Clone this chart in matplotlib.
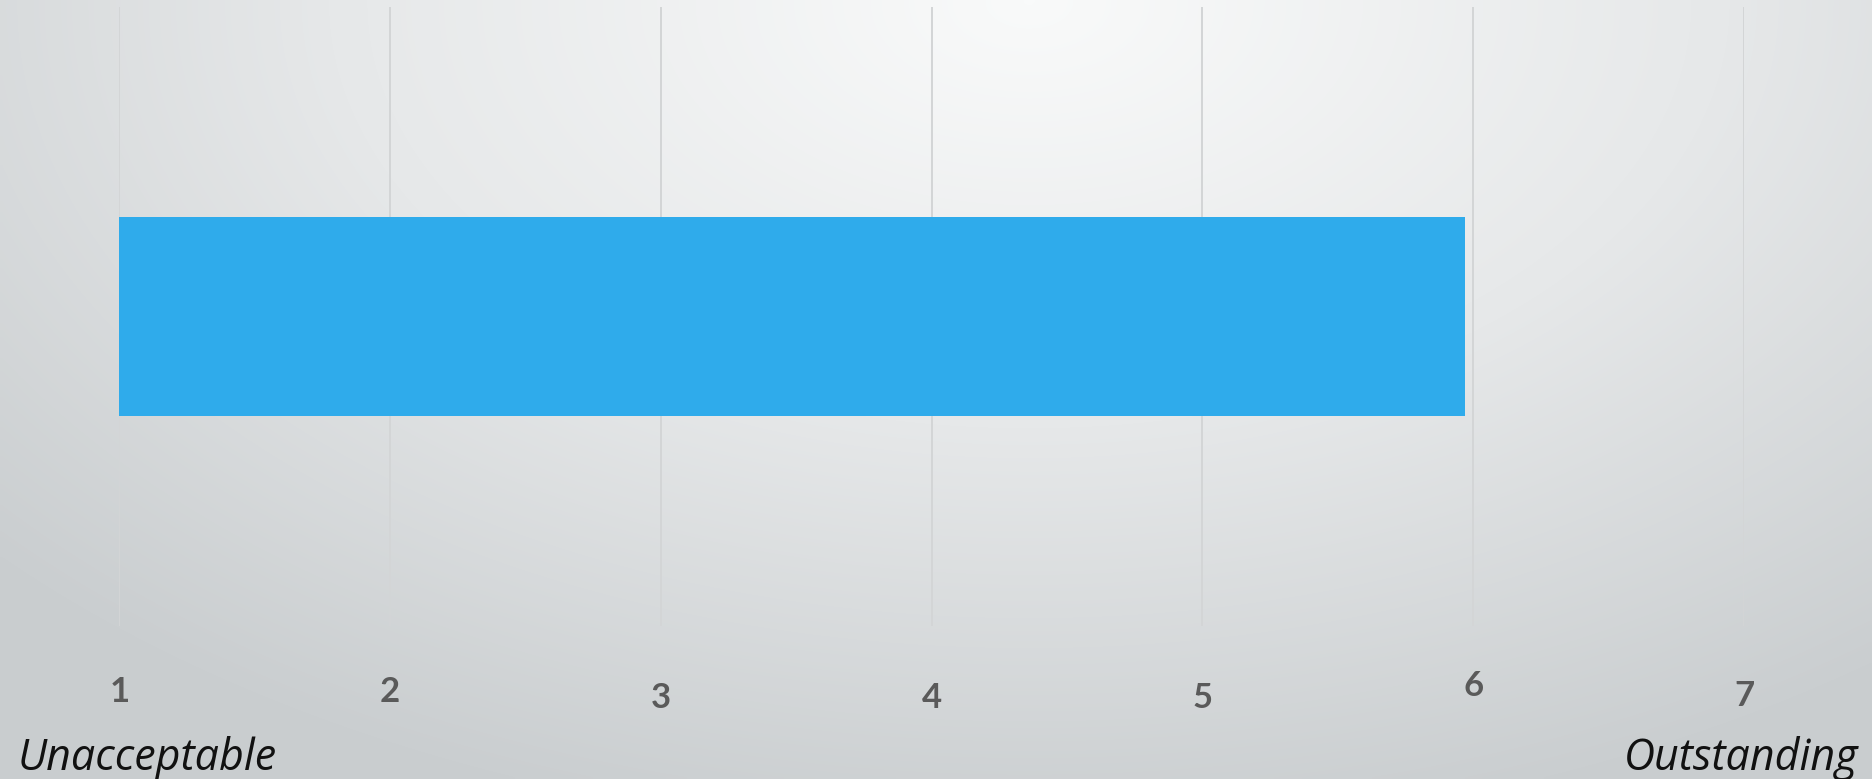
import numpy as np
import matplotlib.pyplot as plt
import matplotlib.transforms as mtransforms
from matplotlib.colors import LinearSegmentedColormap

# Rating scale
ticks = [1, 2, 3, 4, 5, 6, 7]
tick_labels = ['1', '2', '3', '4', '5', '6', '7']
score = 5.97
low_label = 'Unacceptable'
high_label = 'Outstanding'

fig = plt.figure(figsize=(18.72, 7.79), dpi=100)

# radial grey background, light at top centre
bg = fig.add_axes([0, 0, 1, 1], zorder=-10)
gx, gy = np.meshgrid(np.linspace(0, 1, 400), np.linspace(0, 1, 200))
dist = np.sqrt(((gx - 0.55) / 0.75) ** 2 + ((gy - 0.0) / 1.1) ** 2)
cmap = LinearSegmentedColormap.from_list('bg', ['#f9fafa', '#e6e8e9', '#c9cdcf'])
bg.imshow(np.clip(dist, 0, 1), cmap=cmap, vmin=0, vmax=1, aspect='auto',
          extent=[0, 1, 1, 0], interpolation='bilinear')
bg.axis('off')

ax = fig.add_axes([119.4 / 1872, 1 - 626 / 779, (1744 - 119.4) / 1872, 619 / 779])
ax.patch.set_alpha(0)
ax.set_xlim(1, 7)
ax.set_ylim(-0.5, 0.5)

ax.barh([0], [score - ticks[0]], left=ticks[0], height=0.323, color='#2fabeb', zorder=2)

for t in ticks:
    ax.axvline(t, color='#d3d5d6', linewidth=1.4, zorder=1)

for s in ax.spines.values():
    s.set_visible(False)
ax.set_yticks([])
ax.set_xticks(ticks)
ax.set_xticklabels(tick_labels, fontsize=25, fontweight='bold', color='#5a5a5a',
                   family='Lato')
ax.tick_params(axis='x', length=0, pad=36)

# old-style figures: 3,4,5,7 sit lower, 6 sits higher
shift = {'3': -4, '4': -4, '5': -4, '7': -3, '6': 4}
for lab in ax.get_xticklabels():
    dy = shift.get(lab.get_text(), 0)
    if dy:
        lab.set_transform(lab.get_transform() + mtransforms.ScaledTranslation(0, dy / 72, fig.dpi_scale_trans))

fig.text(18 / 1872, 1 - 770 / 779, low_label, fontsize=31, style='italic',
         family='Open Sans', color='#111111', ha='left', va='baseline')
fig.text(1858 / 1872, 1 - 770 / 779, high_label, fontsize=31, style='italic',
         family='Open Sans', color='#111111', ha='right', va='baseline')

fig.savefig('out.png', dpi=100)
